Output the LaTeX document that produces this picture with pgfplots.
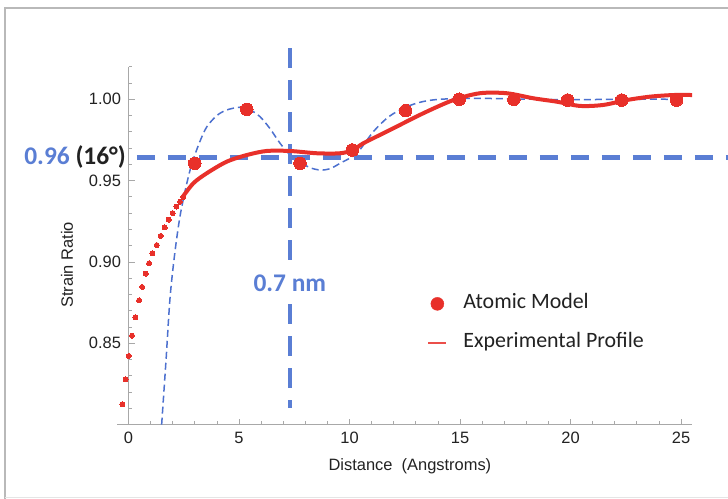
\documentclass[border=0pt]{standalone}
\usepackage{fontspec}
\setmainfont{Liberation Sans}
\newfontfamily\calibri{Carlito}
\usepackage{pgfplots}
\pgfplotsset{compat=1.18}
\definecolor{ared}{HTML}{E8302A}
\definecolor{eblue}{HTML}{5A7ED4}
\definecolor{mblue}{HTML}{4C70CF}
\definecolor{txt}{HTML}{222222}
\definecolor{axgray}{HTML}{A8A8A8}
\begin{document}
\begin{tikzpicture}
\useasboundingbox (0,0) rectangle (728bp,499bp);
\fill[white] (0,0) rectangle (728bp,499bp);
\draw[gray!55, line width=1.6bp] (5bp,0) -- (5bp,491bp) -- (728bp,491bp);
\draw[gray!20, line width=1bp] (5bp,1.5bp) -- (728bp,1.5bp);
\begin{axis}[
  at={(117.45bp,74.4bp)}, anchor=south west,
  x=22.1bp, y=1626.7bp,
  xmin=-0.5, xmax=25.5, ymin=0.8, ymax=1.02,
  clip=false,
  axis x line=bottom, axis y line=middle,
  axis line style={-, draw=axgray, line width=0.9bp},
  hide obscured x ticks=false, hide obscured y ticks=false,
  tick align=inside,
  xtick={0,5,...,25}, minor x tick num=4,
  ytick={0.85,0.90,0.95,1.00},
  minor ytick={0.81,0.82,0.83,0.84,0.86,0.87,0.88,0.89,0.91,0.92,0.93,0.94,0.96,0.97,0.98,0.99,1.01,1.02},
  major tick length=6bp, minor tick length=3.5bp,
  tick style={draw=axgray, line width=0.8bp},
  /pgf/number format/assume math mode=true,
  yticklabel style={/pgf/number format/fixed, /pgf/number format/fixed zerofill, /pgf/number format/precision=2, xshift=-4bp},
  xticklabel style={yshift=-4bp},
  ticklabel style={font=\fontsize{16.5}{16.5}\selectfont, text=txt},
  every axis x label/.style={at={(axis description cs:0.509,0)}, anchor=center, yshift=-41.5bp, font=\fontsize{16.5}{16.5}\selectfont, text=txt},
  every axis y label/.style={at={(axis description cs:-0.088,0.446)}, anchor=center, rotate=90, font=\fontsize{16.5}{16.5}\selectfont, text=txt},
  xlabel={Distance\ \ (Angstroms)},
  ylabel={Strain Ratio},
  legend style={at={(axis cs:13.51,0.8805)}, anchor=north west, draw=none, fill=none, inner sep=0pt,
    font=\calibri\fontsize{22}{22}\selectfont, text=txt,
    nodes={inner sep=0pt, text height=15bp, text depth=5bp},
    column sep=16bp, row sep=18.8bp},
  legend cell align=left,
]
% model (thin blue dashed)
\addplot[mblue, line width=1.5bp, dash pattern=on 7bp off 4bp, smooth, forget plot] coordinates {
(1.50,0.800) (1.70,0.840) (1.88,0.878) (2.10,0.906) (2.33,0.928) (2.60,0.946) (2.86,0.960) (3.20,0.973) (3.54,0.983) (4.0,0.990) (4.44,0.9934) (5.05,0.9951) (5.50,0.9935) (5.95,0.9893) (6.40,0.9820) (6.86,0.9729) (7.30,0.9660) (7.76,0.9616) (8.20,0.9580) (8.67,0.9565) (9.10,0.9572) (9.57,0.9606) (10.33,0.9668) (11.08,0.9801) (11.80,0.9895) (12.59,0.9954) (13.30,0.9985) (14.10,1.0000) (15.60,1.0006) (17.0,1.0003) (18.5,1.0000) (20.0,0.9997) (21.5,0.9999) (23.0,1.0000) (24.8,1.0000)
};
% reference lines
\addplot[eblue, line width=4.2bp, dash pattern=on 18bp off 13bp, forget plot] coordinates {(0.38,0.9642) (27.13,0.9642)};
\addplot[eblue, line width=4.2bp, dash pattern=on 20bp off 12bp, forget plot] coordinates {(7.3,1.0315) (7.3,0.8102)};
% experimental profile, dotted start
\addplot[ared, only marks, mark=*, mark size=2.5bp, mark options={draw=ared, fill=ared, line width=0pt}, forget plot] coordinates {
(-0.28,0.8125) (-0.13,0.8278) (0.01,0.8422) (0.16,0.8547) (0.31,0.8660) (0.48,0.8764) (0.62,0.8846) (0.78,0.8928) (0.93,0.8992) (1.08,0.9053) (1.28,0.9104) (1.46,0.9160) (1.64,0.9212) (1.82,0.9260) (2.00,0.9300) (2.17,0.9340) (2.33,0.9370) (2.48,0.9400)
};
% atomic model
\addplot[ared, only marks, mark=*, mark size=6.3bp, mark options={draw=ared, fill=ared, line width=0pt},
  legend image code/.code={\path[draw=none, fill=none] (0bp,-6bp) rectangle (18bp,6bp); \fill[ared] (9bp,0bp) circle (6.5bp);}] coordinates {
(3.00,0.9606) (5.35,0.9938) (7.76,0.9606) (10.13,0.9688) (12.54,0.9930) (14.97,1.0000) (17.44,1.0000) (19.87,0.9995) (22.32,0.9995) (24.80,0.9995)
};
\addlegendentry{Atomic Model}
% experimental profile, line
\addplot[ared, line width=4bp, smooth,
  legend image code/.code={\path[draw=none, fill=none] (0bp,-6bp) rectangle (18bp,6bp); \draw[ared!85, line width=2.2bp] (0bp,0bp) -- (18bp,0bp);}] coordinates {
(2.40,0.9390) (2.93,0.9483) (3.54,0.9545) (4.44,0.9616) (5.35,0.9657) (6.25,0.9682) (7.31,0.9682) (8.52,0.9668) (9.57,0.9668) (10.17,0.9688) (10.62,0.9729) (11.83,0.9811) (13.34,0.9914) (14.70,0.9995) (15.90,1.0037) (17.11,1.0037) (18.32,1.0006) (19.38,0.9985) (20.43,0.9959) (21.48,0.9965) (22.54,0.9995) (23.60,1.0016) (24.65,1.0026) (25.50,1.0026)
};
\addlegendentry{Experimental Profile}
% annotations
\node[anchor=east, inner sep=0pt, font=\calibri\bfseries\fontsize{25.5}{25.5}\selectfont] at (axis cs:-0.113,0.9642) {\textcolor{eblue}{0.96} \textcolor{txt}{(16°)}};
\node[fill=white, inner xsep=2bp, inner ysep=10bp, text=eblue, font=\calibri\bfseries\fontsize{25.5}{25.5}\selectfont] at (axis cs:7.3,0.8869) {0.7 nm};
\end{axis}
\end{tikzpicture}
\end{document}
